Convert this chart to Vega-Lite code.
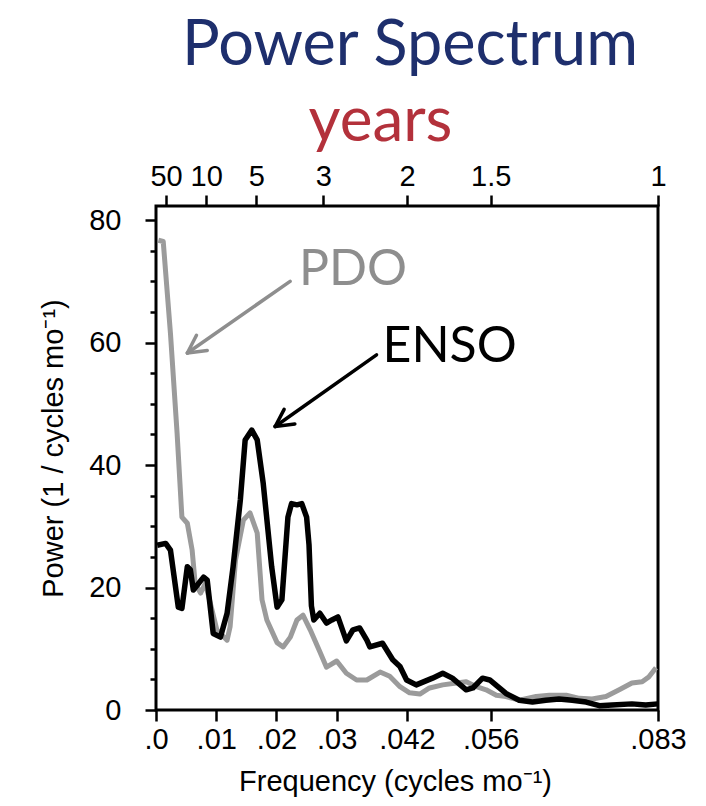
{
  "$schema": "https://vega.github.io/schema/vega-lite/v6.json",
  "width": 502,
  "height": 504,
  "autosize": {"type": "none"},
  "padding": {"left": 156, "top": 206, "right": 48, "bottom": 96},
  "background": "white",
  "title": {"text": "Power Spectrum", "font": "Lato", "fontSize": 63, "fontWeight": "normal", "color": "#1e2f6d", "anchor": "middle", "frame": "group", "dx": 3, "offset": 12},
  "config": {
    "view": {"stroke": "#000", "strokeWidth": 3},
    "axis": {"grid": false, "domain": false, "tickColor": "#000", "tickWidth": 2.5, "labelFont": "Liberation Sans", "labelFontSize": 29, "labelColor": "#000", "titleFont": "Liberation Sans", "titleFontSize": 29, "titleFontWeight": "normal", "titleColor": "#000", "labelOverlap": false, "labelFlush": false, "labelBound": false}
  },
  "datasets": {
    "pdo": [
      {"f": 0.0004, "p": 76.7}, {"f": 0.0012, "p": 76.5}, {"f": 0.0024, "p": 61.5}, {"f": 0.0035, "p": 45.2}, {"f": 0.0043, "p": 31.5}, {"f": 0.0052, "p": 30.5}, {"f": 0.006, "p": 26.1}, {"f": 0.0065, "p": 20.7}, {"f": 0.0074, "p": 19.1}, {"f": 0.0082, "p": 20.7}, {"f": 0.0093, "p": 16.3}, {"f": 0.0101, "p": 13.1}, {"f": 0.0118, "p": 11.4}, {"f": 0.0123, "p": 13.6}, {"f": 0.0132, "p": 24.5}, {"f": 0.0145, "p": 31.0}, {"f": 0.0156, "p": 32.2}, {"f": 0.0168, "p": 28.9}, {"f": 0.0176, "p": 18.0}, {"f": 0.0184, "p": 14.7}, {"f": 0.0201, "p": 11.0}, {"f": 0.0211, "p": 10.3}, {"f": 0.0223, "p": 11.9}, {"f": 0.0234, "p": 14.7}, {"f": 0.0244, "p": 15.5}, {"f": 0.0256, "p": 13.1}, {"f": 0.0272, "p": 9.5}, {"f": 0.0283, "p": 7.0}, {"f": 0.03, "p": 8.0}, {"f": 0.0316, "p": 6.0}, {"f": 0.0333, "p": 4.9}, {"f": 0.035, "p": 4.9}, {"f": 0.0372, "p": 6.2}, {"f": 0.0388, "p": 5.5}, {"f": 0.0405, "p": 3.8}, {"f": 0.0421, "p": 2.8}, {"f": 0.0438, "p": 2.6}, {"f": 0.0454, "p": 3.6}, {"f": 0.0476, "p": 4.1}, {"f": 0.0499, "p": 4.4}, {"f": 0.0515, "p": 4.6}, {"f": 0.0532, "p": 3.8}, {"f": 0.0548, "p": 3.3}, {"f": 0.0565, "p": 2.4}, {"f": 0.0581, "p": 2.2}, {"f": 0.0603, "p": 1.6}, {"f": 0.0631, "p": 2.2}, {"f": 0.0653, "p": 2.4}, {"f": 0.0681, "p": 2.4}, {"f": 0.0703, "p": 1.9}, {"f": 0.0724, "p": 1.8}, {"f": 0.0747, "p": 2.2}, {"f": 0.0769, "p": 3.3}, {"f": 0.079, "p": 4.4}, {"f": 0.0807, "p": 4.6}, {"f": 0.0818, "p": 5.4}, {"f": 0.083, "p": 6.9}
    ],
    "enso": [
      {"f": 0.0002, "p": 26.9}, {"f": 0.0016, "p": 27.2}, {"f": 0.0024, "p": 26.1}, {"f": 0.0037, "p": 16.8}, {"f": 0.0043, "p": 16.6}, {"f": 0.0052, "p": 23.4}, {"f": 0.0057, "p": 22.9}, {"f": 0.0062, "p": 19.6}, {"f": 0.0079, "p": 21.7}, {"f": 0.0085, "p": 21.2}, {"f": 0.0095, "p": 12.5}, {"f": 0.0107, "p": 11.9}, {"f": 0.0118, "p": 15.8}, {"f": 0.0128, "p": 23.4}, {"f": 0.014, "p": 34.3}, {"f": 0.0148, "p": 44.1}, {"f": 0.0159, "p": 45.7}, {"f": 0.0168, "p": 44.1}, {"f": 0.0178, "p": 37.0}, {"f": 0.0192, "p": 23.4}, {"f": 0.0201, "p": 16.8}, {"f": 0.0209, "p": 18.0}, {"f": 0.0219, "p": 31.5}, {"f": 0.0225, "p": 33.7}, {"f": 0.0234, "p": 33.5}, {"f": 0.0242, "p": 33.7}, {"f": 0.025, "p": 31.5}, {"f": 0.0254, "p": 27.0}, {"f": 0.0258, "p": 17.0}, {"f": 0.0262, "p": 14.7}, {"f": 0.0272, "p": 15.8}, {"f": 0.0283, "p": 14.2}, {"f": 0.0292, "p": 14.7}, {"f": 0.0302, "p": 15.2}, {"f": 0.0316, "p": 11.3}, {"f": 0.0327, "p": 13.1}, {"f": 0.0338, "p": 13.4}, {"f": 0.035, "p": 11.4}, {"f": 0.0355, "p": 10.3}, {"f": 0.0376, "p": 10.9}, {"f": 0.0393, "p": 8.2}, {"f": 0.0405, "p": 7.1}, {"f": 0.0416, "p": 4.9}, {"f": 0.0432, "p": 4.1}, {"f": 0.0459, "p": 5.2}, {"f": 0.0476, "p": 6.0}, {"f": 0.0492, "p": 5.2}, {"f": 0.0515, "p": 3.3}, {"f": 0.0526, "p": 3.6}, {"f": 0.0542, "p": 5.2}, {"f": 0.0554, "p": 4.9}, {"f": 0.057, "p": 3.6}, {"f": 0.0581, "p": 2.7}, {"f": 0.0603, "p": 1.6}, {"f": 0.0625, "p": 1.3}, {"f": 0.0647, "p": 1.6}, {"f": 0.0669, "p": 1.8}, {"f": 0.0691, "p": 1.6}, {"f": 0.0714, "p": 1.3}, {"f": 0.0736, "p": 0.7}, {"f": 0.0757, "p": 0.8}, {"f": 0.079, "p": 1.0}, {"f": 0.0813, "p": 0.8}, {"f": 0.0833, "p": 1.0}
    ],
    "arrows": [
      {"c": "PDO", "x1": 0.02226, "y1": 70.0, "x2": 0.00521, "y2": 58.3},
      {"c": "PDO", "x1": 0.00521, "y1": 58.3, "x2": 0.00851, "y2": 58.7},
      {"c": "PDO", "x1": 0.00521, "y1": 58.3, "x2": 0.00672, "y2": 61.2},
      {"c": "ENSO", "x1": 0.03661, "y1": 58.0, "x2": 0.01978, "y2": 46.3},
      {"c": "ENSO", "x1": 0.01978, "y1": 46.3, "x2": 0.02305, "y2": 46.7},
      {"c": "ENSO", "x1": 0.01978, "y1": 46.3, "x2": 0.02127, "y2": 49.1}
    ],
    "labels": [
      {"c": "PDO", "x": 0.03269, "y": 69.4},
      {"c": "ENSO", "x": 0.04874, "y": 56.8}
    ]
  },
  "layer": [
    {
      "data": {"name": "pdo"},
      "mark": {"type": "line", "color": "#9b9b9b", "strokeWidth": 5, "strokeJoin": "round"},
      "encoding": {
        "x": {"field": "f", "type": "quantitative", "scale": {"domain": [0, 0.083334], "nice": false, "zero": false},
          "axis": {"orient": "top", "values": [0.0016667, 0.0083333, 0.0166667, 0.0277778, 0.0416667, 0.0555556, 0.0833333], "labelExpr": "format(1/(12*datum.value), '.2~r')", "tickSize": 11, "labelPadding": 4, "title": "years", "titleFont": "Lato", "titleFontSize": 62, "titleColor": "#b3313b", "titleX": 224, "titleY": -66, "titleBaseline": "alphabetic", "titleAlign": "center"}},
        "y": {"field": "p", "type": "quantitative", "scale": {"domain": [0, 82.3], "nice": false},
          "axis": {"orient": "left", "values": [0, 20, 40, 60, 80], "tickSize": 11, "labelPadding": 24, "title": "Power (1 / cycles mo⁻¹)", "titleX": -94, "titleY": 242, "titleBaseline": "alphabetic", "titleAlign": "center", "titleAngle": -90}}
      }
    },
    {
      "data": {"name": "enso"},
      "mark": {"type": "line", "color": "#000000", "strokeWidth": 5.5, "strokeJoin": "round"},
      "encoding": {
        "x": {"field": "f", "type": "quantitative",
          "axis": {"orient": "bottom", "values": [0, 0.01, 0.02, 0.03, 0.0416667, 0.0555556, 0.0833333], "labelExpr": "datum.value == 0 ? '.0' : replace(format(datum.value, '.3~f'), '0.', '.')", "tickSize": 11, "labelPadding": 4, "title": "Frequency (cycles mo⁻¹)", "titleX": 239, "titleY": 80, "titleBaseline": "alphabetic", "titleAlign": "center"}},
        "y": {"field": "p", "type": "quantitative",
          "axis": {"orient": "left", "values": [5, 10, 15, 25, 30, 35, 45, 50, 55, 65, 70, 75], "tickSize": 6, "labels": false, "title": null}}
      }
    },
    {
      "data": {"name": "arrows"},
      "mark": {"type": "rule", "strokeWidth": 3.5, "strokeCap": "round"},
      "encoding": {
        "x": {"field": "x1", "type": "quantitative", "axis": null},
        "y": {"field": "y1", "type": "quantitative", "axis": null},
        "x2": {"field": "x2"},
        "y2": {"field": "y2"},
        "color": {"field": "c", "type": "nominal", "scale": {"domain": ["PDO", "ENSO"], "range": ["#8e8e8e", "#000000"]}, "legend": null}
      }
    },
    {
      "data": {"name": "labels"},
      "mark": {"type": "text", "font": "Lato", "fontSize": 50, "baseline": "alphabetic", "align": "center"},
      "encoding": {
        "x": {"field": "x", "type": "quantitative", "axis": null},
        "y": {"field": "y", "type": "quantitative", "axis": null},
        "text": {"field": "c"},
        "color": {"field": "c", "type": "nominal", "legend": null}
      }
    }
  ],
  "resolve": {"axis": {"x": "independent", "y": "independent"}}
}
